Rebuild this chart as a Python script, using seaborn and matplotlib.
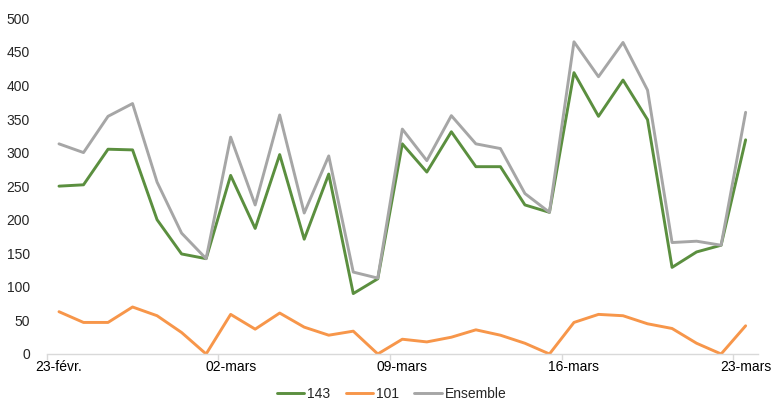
import matplotlib
matplotlib.use('Agg')
import matplotlib.pyplot as plt
import pandas as pd
import seaborn as sns

# jours du 23 février au 23 mars
jours = ['23-févr.', '24-févr.', '25-févr.', '26-févr.', '27-févr.', '28-févr.',
         '01-mars', '02-mars', '03-mars', '04-mars', '05-mars', '06-mars', '07-mars',
         '08-mars', '09-mars', '10-mars', '11-mars', '12-mars', '13-mars', '14-mars',
         '15-mars', '16-mars', '17-mars', '18-mars', '19-mars', '20-mars', '21-mars',
         '22-mars', '23-mars']

serie_143 = [250, 252, 305, 304, 200, 149, 142, 266, 187, 297, 171, 268, 90, 112,
             313, 271, 331, 279, 279, 222, 211, 419, 354, 408, 349, 129, 152, 162, 319]
serie_101 = [63, 47, 47, 70, 57, 32, 0, 59, 37, 61, 40, 28, 34, 0,
             22, 18, 25, 36, 28, 16, 0, 47, 59, 57, 45, 38, 16, 0, 42]
ensemble = [313, 300, 354, 373, 256, 180, 142, 323, 222, 356, 210, 295, 122, 113,
            335, 288, 355, 313, 306, 239, 211, 465, 413, 464, 393, 166, 168, 162, 360]

noms = ['143', '101', 'Ensemble']
couleurs = ['#5B8F3F', '#F7964A', '#A6A6A6']
labels_x = ['23-févr.', '02-mars', '09-mars', '16-mars', '23-mars']

# tableau long pour seaborn
rows = []
for nom, valeurs in zip(noms, [serie_143, serie_101, ensemble]):
    for i, v in enumerate(valeurs):
        rows.append({'jour': i, 'valeur': v, 'serie': nom})
df = pd.DataFrame(rows)

sns.set_style('white')
plt.rcParams['font.family'] = ['Liberation Sans', 'DejaVu Sans']
plt.rcParams['font.size'] = 10

fig = plt.figure(figsize=(7.71, 4.03), dpi=100)
ax = fig.add_axes([0.0606, 0.1216, 0.9224, 0.833])

sns.lineplot(data=df, x='jour', y='valeur', hue='serie', hue_order=noms,
             palette=couleurs, linewidth=2.1, ax=ax, legend=False)

ax.set_xlim(-0.5, len(jours) - 0.5)
ax.set_ylim(0, 500)
ax.set_yticks(range(0, 501, 50))
ax.set_xlabel('')
ax.set_ylabel('')

# etiquettes au milieu des jours, petits traits entre les jours
pos = [jours.index(j) if j in jours else 0 for j in labels_x]
ax.set_xticks(pos)
ax.set_xticklabels(labels_x)
ax.set_xticks([p - 0.5 for p in pos], minor=True)
ax.tick_params(axis='x', which='major', length=0, pad=4, labelsize=10, colors='#000000')
ax.tick_params(axis='x', which='minor', length=4, width=1, color='#D9D9D9', bottom=True)
ax.tick_params(axis='y', length=0, pad=12, labelsize=10)

for s in ['top', 'right', 'left']:
    ax.spines[s].set_visible(False)
ax.spines['bottom'].set_color('#D9D9D9')
ax.spines['bottom'].set_linewidth(1)

# legende en bas, sous l'axe
handles = [plt.Line2D([], [], color=c, linewidth=2.1) for c in couleurs]
ax.legend(handles, noms, loc='center', bbox_to_anchor=(0.508, 0.022),
          bbox_transform=fig.transFigure, ncol=3, frameon=False,
          handlelength=2.0, handletextpad=0.2, columnspacing=1.1, fontsize=10,
          borderpad=0.1)

fig.savefig('out.png', dpi=100)
